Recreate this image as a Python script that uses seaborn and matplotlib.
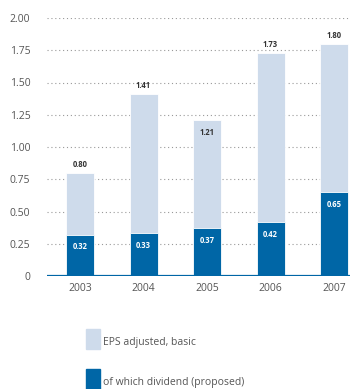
import matplotlib
matplotlib.use("Agg")
import matplotlib.pyplot as plt
import seaborn as sns
import pandas as pd
from matplotlib.patches import Rectangle

years = ["2003", "2004", "2005", "2006", "2007"]
eps = [0.80, 1.41, 1.21, 1.73, 1.80]
dividend = [0.32, 0.33, 0.37, 0.42, 0.65]
yticks = [0, 0.25, 0.50, 0.75, 1.00, 1.25, 1.50, 1.75, 2.00]
ytick_labels = ["0", "0.25", "0.50", "0.75", "1.00", "1.25", "1.50", "1.75", "2.00"]
legend_labels = ["EPS adjusted, basic", "of which dividend (proposed)"]

light = "#CEDBEB"
dark = "#0066A6"
grey = "#555555"

sns.set_style("white")
plt.rcParams["font.family"] = ["Open Sans", "DejaVu Sans"]

df = pd.DataFrame({"year": years, "eps": eps, "dividend": dividend})

W, H = 353, 389
fig = plt.figure(figsize=(W / 100, H / 100), dpi=100)
ax = fig.add_axes([47 / W, (H - 276) / H, (350 - 47) / W, (276 - 18) / H])

sns.barplot(data=df, x="year", y="eps", color=light, width=0.44, ax=ax,
            saturation=1, zorder=2, edgecolor="white", linewidth=0.6)
sns.barplot(data=df, x="year", y="dividend", color=dark, width=0.44, ax=ax,
            saturation=1, zorder=3, edgecolor="white", linewidth=0.6)

ax.set_xlim(-0.52, 4.25)
ax.set_ylim(0, 2.0)
ax.set_yticks(yticks)
ax.set_yticklabels(ytick_labels)
ax.set_xlabel("")
ax.set_ylabel("")
for s in ax.spines.values():
    s.set_visible(False)
for y in yticks[1:]:
    ax.axhline(y, color="#999999", lw=0.8, ls=(0, (1, 2.5)), zorder=1)
ax.axhline(0, color=dark, lw=1.6, zorder=4)
ax.tick_params(axis="both", length=0, labelsize=7.5, colors=grey, pad=12)
ax.tick_params(axis="x", pad=5)

for i, (e, d) in enumerate(zip(eps, dividend)):
    if i == 2:
        ax.text(i, e - 0.06, f"{e:.2f}", ha="center", va="top", fontsize=5.5,
                color="#333333", fontweight="bold", zorder=5)
    else:
        ax.text(i, e + 0.03, f"{e:.2f}", ha="center", va="bottom", fontsize=5.5,
                color="#333333", fontweight="bold", zorder=5)
    ax.text(i, d - 0.06, f"{d:.2f}", ha="center", va="top", fontsize=5.5,
            color="white", fontweight="bold", zorder=5)

# legend
for k, (lab, col) in enumerate(zip(legend_labels, [light, dark])):
    y0 = 329 + k * 40
    fig.patches.append(Rectangle((86 / W, (H - y0 - 20) / H), 14 / W, 20 / H,
                                 transform=fig.transFigure, color=col, figure=fig))
    fig.text(103 / W, (H - y0 - 13) / H, lab, fontsize=7.5, color=grey,
             va="center", ha="left")

fig.savefig("out.png", dpi=100)
